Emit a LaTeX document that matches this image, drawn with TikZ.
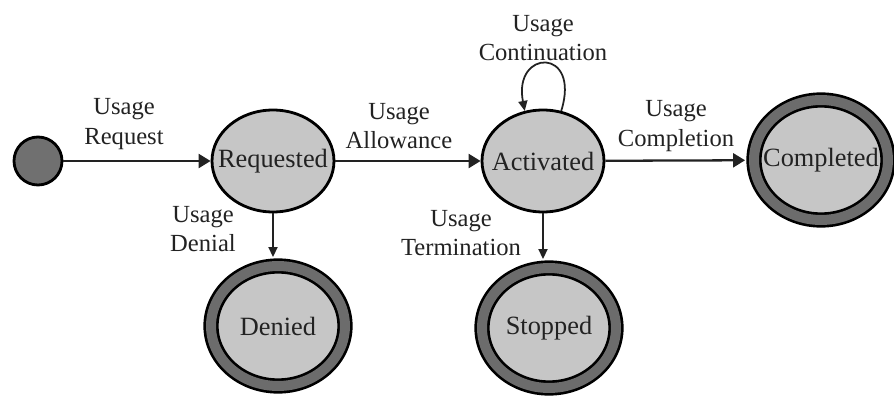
\documentclass[tikz,border=0pt]{standalone}
\usepackage{fontspec}
\setmainfont{Liberation Serif}
\usepackage{tikz}
\usetikzlibrary{arrows.meta,shapes.geometric}
\definecolor{stategray}{HTML}{C6C6C6}
\definecolor{ringgray}{HTML}{6C6C6C}
\definecolor{startgray}{HTML}{707070}
\definecolor{inkgray}{HTML}{222222}
\tikzset{
    state/.style={ellipse, draw=black, line width=1.6pt, fill=stategray, inner sep=0pt,
        minimum width=2.44cm, minimum height=2.04cm},
    final/.style={ellipse, draw=black, line width=1.5pt, double=ringgray, double distance=0.2cm,
        fill=stategray, inner sep=0pt, minimum width=2.68cm, minimum height=2.4cm},
    statetext/.style={font=\fontsize{15}{18}\selectfont, text=inkgray},
    bigtip/.style={draw=inkgray, line width=1.3pt, -{Triangle[length=0.24cm, width=0.28cm]}},
    smalltip/.style={draw=inkgray, line width=1pt, -{Triangle[length=0.2cm, width=0.18cm]}},
}
\newcommand{\ringhalf}{0.1cm+1.5pt}

\begin{document}
\begin{tikzpicture}[x=0.02cm, y=-0.02cm,
        every node/.style={font=\fontsize{14}{17}\selectfont, text=inkgray}]
        \useasboundingbox (0,0) rectangle (894,396);
        % states
        \node[circle, draw=black, line width=1.6pt, fill=startgray, minimum size=0.96cm] (start) at (38,161) {};
        \node[state, label={[statetext]center:Requested}] (req) at (273,161) {};
        \node[state, label={[statetext]center:Activated}] (act) at (543,161) {};
        \foreach \name/\txt/\x/\y in {den/Denied/278/326, stp/Stopped/549/328, cmp/Completed/821/160} {
            \node[final, label={[statetext]center:\txt}] (\name) at (\x,\y) {};
        }
        % labels
        \foreach \name/\x/\y/\txt in {lreq/124/124/Request, lall/399/126/Allowance,
                lcon/543/38/Continuation, lcmp/676/126/Completion,
                lden/203/229/Denial, lter/461/233/Termination} {
            \node[align=center] (\name) at (\x,\y) {Usage\\\txt};
        }
        % transitions
        \draw[bigtip] (start) -- (req);
        \draw[bigtip] (req) -- (act);
        \draw[bigtip, shorten >=\ringhalf] (act) -- (cmp);
        \draw[smalltip, shorten >=\ringhalf] (req) -- (req |- den.north);
        \draw[smalltip, shorten >=\ringhalf] (act) -- (act |- stp.north);
        \draw[smalltip] (act.70) .. controls +(20,-64) and +(-12,-62) .. (act.110);
\end{tikzpicture}
\end{document}
